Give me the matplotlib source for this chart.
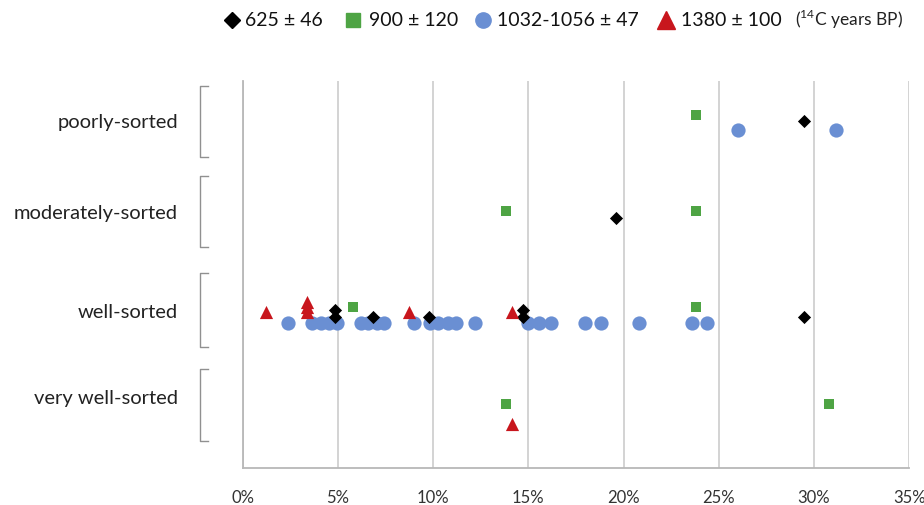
import matplotlib.pyplot as plt
from matplotlib.lines import Line2D

plt.rcParams["font.family"] = ["Lato", "DejaVu Sans"]
plt.rcParams["mathtext.fontset"] = "custom"
plt.rcParams["mathtext.rm"] = "Lato"

# grain sorting classes (y levels) and labels
categories = ["very well-sorted", "well-sorted", "moderately-sorted", "poorly-sorted"]
cat_levels = [1.17, 2.06, 3.07, 4.0]
bracket_spans = [(0.73, 1.47), (1.69, 2.45), (2.72, 3.45), (3.64, 4.37)]

# 625 +/- 46 (x in %, y level)
dia_x = [4.86, 4.86, 6.87, 9.79, 14.7, 14.7, 29.5, 29.5, 19.6]
dia_y = [2.07, 2.0, 2.0, 2.0, 2.07, 2.0, 2.0, 4.01, 3.01]

# 900 +/- 120
sq_x = [5.8, 23.8, 23.8, 13.83, 23.8, 13.82, 30.8]
sq_y = [2.10, 2.10, 4.07, 3.09, 3.09, 1.11, 1.11]

# 1032-1056 +/- 47
circ_x = [2.37, 3.67, 4.1, 4.54, 4.96, 6.2, 6.6, 7.04, 7.4, 9.0, 9.84, 10.28,
          10.77, 11.2, 12.2, 14.99, 15.56, 16.2, 18.0, 18.8, 20.8, 23.6, 24.4,
          26.0, 31.15]
circ_y = [1.94] * 23 + [3.92, 3.92]

# 1380 +/- 100
tri_x = [1.23, 3.4, 3.4, 3.4, 8.74, 14.13, 14.15]
tri_y = [2.05, 2.05, 2.10, 2.15, 2.05, 2.05, 0.90]

x_ticks = [0, 5, 10, 15, 20, 25, 30, 35]

legend_labels = ["625 ± 46", "900 ± 120", "1032-1056 ± 47", "1380 ± 100"]

c_dia = "black"
c_sq = "#4ea444"
c_circ = "#6a8fd3"
c_tri = "#c8161d"

W, H = 924, 506
fig = plt.figure(figsize=(W / 100, H / 100), dpi=100)
ax = fig.add_axes([0.2625, 0.0731, 0.7215, 0.7649])

ax.scatter(circ_x, circ_y, marker="o", s=105, color=c_circ, zorder=3, linewidths=0)
ax.scatter(dia_x, dia_y, marker="D", s=45, color=c_dia, zorder=4, linewidths=0)
ax.scatter(sq_x, sq_y, marker="s", s=60, color=c_sq, zorder=4, linewidths=0)
ax.scatter(tri_x, tri_y, marker="^", s=90, color=c_tri, zorder=4, linewidths=0)

ax.set_xlim(0, 35)
ax.set_ylim(0.45, 4.42)
ax.set_xticks(x_ticks)
ax.set_xticklabels([f"{t}%" for t in x_ticks], fontsize=12, color="#333333")
ax.tick_params(axis="x", length=0, pad=15)
ax.set_yticks([])
ax.grid(axis="x", color="#d0d0d0", linewidth=1.3)
ax.set_axisbelow(True)
for side in ["top", "right"]:
    ax.spines[side].set_visible(False)
for side in ["left", "bottom"]:
    ax.spines[side].set_color("#b8b8b8")
    ax.spines[side].set_linewidth(1.3)

# category labels and brackets left of the axis
trans = ax.get_yaxis_transform()
for lab, lev, (lo, hi) in zip(categories, cat_levels, bracket_spans):
    ax.text(-0.097, lev, lab, transform=trans, ha="right", va="center",
            fontsize=14.5, color="#222222", clip_on=False)
    ax.plot([-0.052, -0.064, -0.064, -0.052], [hi, hi, lo, lo], transform=trans,
            color="#909090", linewidth=1.0, clip_on=False)

# legend across the top, placed item by item (pixel positions)
leg_y = 1 - 21 / H
leg_items = [
    ("D", c_dia, 8.5, 232, 245),
    ("s", c_sq, 9.5, 353, 369),
    ("o", c_circ, 11, 483, 497),
    ("^", c_tri, 13, 666, 681),
]
for (mk, col, ms, mx, tx), lab in zip(leg_items, legend_labels):
    fig.add_artist(Line2D([mx / W], [leg_y], marker=mk, ls="", color=col,
                          markersize=ms, transform=fig.transFigure))
    fig.text(tx / W, leg_y, lab, fontsize=14, ha="left", va="center",
             color="#111111")
fig.text(795 / W, leg_y + 0.003, r"($^{\mathrm{14}}$C years BP)", fontsize=12.5,
         ha="left", va="center", color="#222222")

fig.savefig("out.png", dpi=100)
